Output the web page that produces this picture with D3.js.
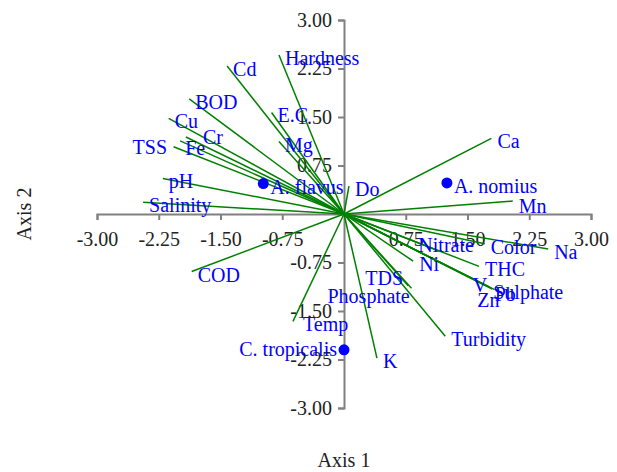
<!DOCTYPE html>
<html>
<head>
<meta charset="utf-8">
<script src="https://cdn.jsdelivr.net/npm/d3@7/dist/d3.min.js"></script>
<style>
  html, body { margin: 0; padding: 0; background: #fff; }
  svg { display: block; font-family: "Liberation Serif", "Times New Roman", serif; }
</style>
</head>
<body>
<svg id="chart" width="617" height="472"></svg>
<script>
// Variable loadings (biplot vectors)
const variables = ["Hardness", "Cd", "BOD", "Cu", "Cr", "Fe", "TSS", "pH", "Salinity",
  "E.C", "Mg", "Do", "COD", "Temp", "K", "Turbidity", "TDS", "Phosphate", "Ni",
  "Nitrate", "Color", "Na", "THC", "V", "Zn", "Pb", "Sulphate", "Ca", "Mn"];
const loadAxis1 = [-0.79, -1.42, -1.88, -2.13, -1.92, -1.99, -2.07, -2.20, -2.44,
  -0.88, -0.79, 0.06, -1.85, -0.62, 0.40, 1.23, 0.78, 0.82, 0.84,
  1.17, 1.71, 2.48, 1.64, 1.77, 1.80, 1.83, 1.74, 1.79, 2.05];
const loadAxis2 = [2.46, 2.29, 1.78, 1.48, 1.19, 1.13, 1.04, 0.55, 0.18,
  1.57, 1.12, 0.43, -0.89, -1.66, -2.23, -1.89, -1.11, -1.15, -0.73,
  -0.58, -0.46, -0.54, -0.81, -1.13, -1.16, -1.17, -1.12, 1.17, 0.20];

// Species scores
const species = ["A. flavus", "A. nomius", "C. tropicalis"];
const scoreAxis1 = [-0.98, 1.25, 0.00];
const scoreAxis2 = [0.47, 0.48, -2.10];

// Tick labels (zero left unlabeled)
const tickValues = [-3.00, -2.25, -1.50, -0.75, 0.75, 1.50, 2.25, 3.00];
const axisTitles = ["Axis 1", "Axis 2"];

// Layout
const plotLeft = 97, plotRight = 591, plotTop = 20, plotBottom = 408;

const svg = d3.select("#chart");
const x = d3.scaleLinear().domain([-3, 3]).range([plotLeft, plotRight]);
const y = d3.scaleLinear().domain([-3, 3]).range([plotBottom, plotTop]);

// Plain hyphen for negative tick labels
const fmt = d => d.toFixed(2);
const axisColor = "#808080";

// Axes cross at the origin
const gx = svg.append("g")
  .attr("transform", `translate(0,${y(0)})`)
  .call(d3.axisBottom(x).tickValues(tickValues).tickFormat(fmt).tickSize(6).tickPadding(12));
const gy = svg.append("g")
  .attr("transform", `translate(${x(0)},0)`)
  .call(d3.axisLeft(y).tickValues(tickValues).tickFormat(fmt).tickSize(6).tickPadding(6));

[gx, gy].forEach(g => {
  g.select(".domain").attr("stroke", axisColor).attr("stroke-width", 2);
  g.selectAll(".tick line").attr("stroke", axisColor).attr("stroke-width", 2);
  g.selectAll(".tick text")
    .attr("fill", "#222")
    .style("font-family", "'Liberation Serif', 'Times New Roman', serif")
    .style("font-size", "20px");
});

// Axis titles
svg.append("text")
  .attr("x", x(0))
  .attr("y", 467)
  .attr("text-anchor", "middle")
  .attr("fill", "#222")
  .style("font-size", "20px")
  .text(axisTitles[0]);
svg.append("text")
  .attr("transform", `translate(31,${y(0)}) rotate(-90)`)
  .attr("text-anchor", "middle")
  .attr("fill", "#222")
  .style("font-size", "20px")
  .text(axisTitles[1]);

// Vector records
const vectors = variables.map((name, i) => ({ name, a1: loadAxis1[i], a2: loadAxis2[i] }));
const points = species.map((name, i) => ({ name, a1: scoreAxis1[i], a2: scoreAxis2[i] }));

// Loading arrows from the origin
svg.append("g")
  .selectAll("line")
  .data(vectors)
  .join("line")
  .attr("x1", x(0))
  .attr("y1", y(0))
  .attr("x2", d => x(d.a1))
  .attr("y2", d => y(d.a2))
  .attr("stroke", "green")
  .attr("stroke-width", 1.5);

// Label nudges (px) to keep crowded names readable
const nudge = {
  "TSS": [-47, -3], "Cr": [11, -3], "Fe": [-1, 4],
  "TDS": [-49, -11], "Phosphate": [-90, 5], "Nitrate": [-28, -10],
  "V": [-23, -5], "Zn": [-21, 8], "Pb": [-6, 1], "Sulphate": [0, 3],
  "Temp": [4, 0], "Mn": [0, 2]
};

svg.append("g")
  .selectAll("text")
  .data(vectors)
  .join("text")
  .attr("x", d => x(d.a1) + 6 + (nudge[d.name] ? nudge[d.name][0] : 0))
  .attr("y", d => y(d.a2) + 10 + (nudge[d.name] ? nudge[d.name][1] : 0))
  .attr("fill", "blue")
  .style("font-size", "20px")
  .text(d => d.name);

// Species points
svg.append("g")
  .selectAll("circle")
  .data(points)
  .join("circle")
  .attr("cx", d => x(d.a1))
  .attr("cy", d => y(d.a2))
  .attr("r", 5.5)
  .attr("fill", "blue");

svg.append("g")
  .selectAll("text")
  .data(points)
  .join("text")
  .attr("x", d => d.name === "C. tropicalis" ? x(d.a1) - 7 : x(d.a1) + 7)
  .attr("y", d => d.name === "C. tropicalis" ? y(d.a2) + 6 : y(d.a2) + 10)
  .attr("text-anchor", d => d.name === "C. tropicalis" ? "end" : "start")
  .attr("fill", "blue")
  .style("font-size", "20px")
  .text(d => d.name);
</script>
</body>
</html>
